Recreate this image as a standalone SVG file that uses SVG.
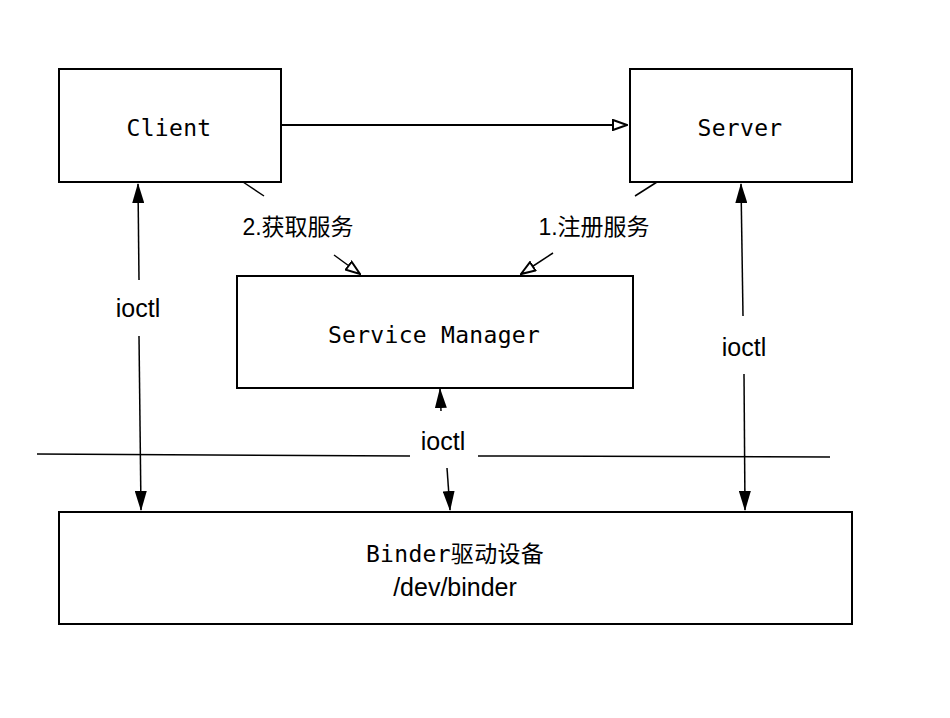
<svg xmlns="http://www.w3.org/2000/svg" width="950" height="718" viewBox="0 0 950 718">
<style>
.box{fill:#fff;stroke:#000;stroke-width:2}
.mono{font-family:"DejaVu Sans Mono","Noto Sans CJK SC",monospace;font-size:23px;letter-spacing:0.3px;text-anchor:middle;fill:#000}
.sans{font-family:"Liberation Sans","Noto Sans CJK SC",sans-serif;font-size:23px;text-anchor:middle;fill:#000}
.big{font-size:25px}
.ln{stroke:#000;stroke-width:2;fill:none}
.thin{stroke:#000;stroke-width:1.5;fill:none}
</style>
<defs>
<marker id="open" viewBox="0 0 16 12" refX="15" refY="6" markerWidth="16" markerHeight="12" markerUnits="userSpaceOnUse" orient="auto">
<path d="M1,1 L15,6 L1,11 Z" fill="#fff" stroke="#000" stroke-width="2"/>
</marker>
<marker id="solid" viewBox="0 0 20 12" refX="19" refY="6" markerWidth="20" markerHeight="12" markerUnits="userSpaceOnUse" orient="auto">
<path d="M0,0 L20,6 L0,12 Z" fill="#000"/>
</marker>
</defs>
<rect width="950" height="718" fill="#fff"/>
<g id="connectors">
<line class="ln" x1="281" y1="125" x2="627" y2="125" marker-end="url(#open)"/>
<line class="thin" x1="243" y1="182" x2="264" y2="196"/>
<line class="thin" x1="334" y1="255" x2="360" y2="274" marker-end="url(#open)"/>
<line class="thin" x1="657" y1="182" x2="635" y2="196"/>
<line class="thin" x1="553" y1="253" x2="521" y2="274" marker-end="url(#open)"/>
<line class="thin" x1="139" y1="280" x2="138" y2="184" marker-end="url(#solid)"/>
<line class="thin" x1="139" y1="336" x2="141" y2="510" marker-end="url(#solid)"/>
<line class="thin" x1="743" y1="316" x2="741" y2="184" marker-end="url(#solid)"/>
<line class="thin" x1="744" y1="374" x2="745" y2="510" marker-end="url(#solid)"/>
<line class="thin" x1="441" y1="411" x2="440" y2="389" marker-end="url(#solid)"/>
<line class="thin" x1="447" y1="468" x2="450" y2="510" marker-end="url(#solid)"/>
<line class="thin" x1="37" y1="454" x2="410" y2="456"/>
<line class="thin" x1="478" y1="456" x2="830" y2="457"/>
<text class="sans" x="298" y="235">2.获取服务</text>
<text class="sans" x="594" y="235">1.注册服务</text>
<text class="sans big" x="138" y="317">ioctl</text>
<text class="sans big" x="744" y="356">ioctl</text>
<text class="sans big" x="443" y="450">ioctl</text>
</g>
<g id="client">
<rect class="box" x="59" y="69" width="222" height="113"/>
<text class="mono" x="169" y="136">Client</text>
</g>
<g id="server">
<rect class="box" x="630" y="69" width="222" height="113"/>
<text class="mono" x="740" y="136">Server</text>
</g>
<g id="service-manager">
<rect class="box" x="237" y="276" width="396" height="112"/>
<text class="mono" x="434" y="343">Service Manager</text>
</g>
<g id="binder">
<rect class="box" x="59" y="512" width="793" height="112"/>
<text class="mono" x="455" y="562">Binder驱动设备</text>
<text class="sans big" x="455" y="596">/dev/binder</text>
</g>
</svg>
